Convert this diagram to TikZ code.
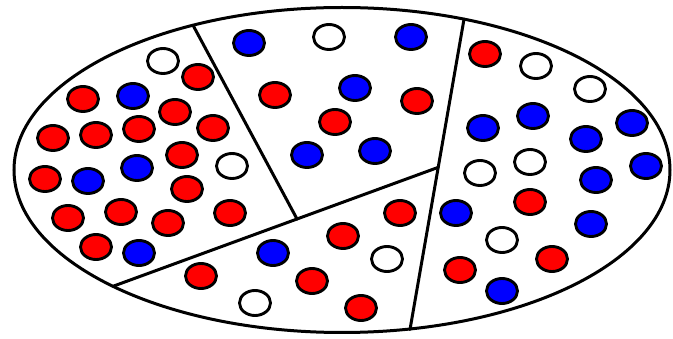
\documentclass[tikz,border=0pt]{standalone}
\usetikzlibrary{shapes.geometric}
\definecolor{dred}{RGB}{255,0,0}
\definecolor{dblue}{RGB}{0,0,255}
\tikzset{
  dot/.style={ellipse, draw=black, line width=2.9pt, minimum width=31pt, minimum height=25pt, inner sep=0pt},
  rdot/.style={dot, fill=dred},
  bdot/.style={dot, fill=dblue},
  wdot/.style={dot, fill=white},
  border/.style={draw=black, line width=3pt},
  divider/.style={draw=black, line width=3pt, line cap=round}
}
\begin{document}
\begin{tikzpicture}[x=1pt,y=-1pt]
\useasboundingbox[fill=white] (0,0) rectangle (673,339);
% outer ellipse
\draw[border] (342,170) ellipse [x radius=328, y radius=162.5];
% dividers
\coordinate (t1) at (193,25.2);
\coordinate (t3) at (464,19.2);
\coordinate (b3) at (410,329.5);
\coordinate (l2) at (113,286.3);
\coordinate (m1) at (297,219);
\coordinate (j2) at (intersection of t3--b3 and l2--m1);
\coordinate (j1) at (intersection of t1--m1 and l2--j2);
\draw[divider] (t3) -- (b3);
\draw[divider] (l2) -- (j2);
\draw[divider] (t1) -- (j1);
% left sector
\node[wdot] (a1) at (163,61) {};
\node[rdot] (a2) at (198,77) {};
\node[rdot] (a3) at (83,99) {};
\node[bdot] (a4) at (133,96) {};
\node[rdot] (a5) at (175,112) {};
\node[rdot] (a6) at (53,138) {};
\node[rdot] (a7) at (96,135) {};
\node[rdot] (a8) at (139,129) {};
\node[rdot] (a9) at (213,128) {};
\node[rdot] (a10) at (182,155) {};
\node[wdot] (a11) at (232,166) {};
\node[rdot] (a12) at (45,179) {};
\node[bdot] (a13) at (88,181) {};
\node[bdot] (a14) at (137,168) {};
\node[rdot] (a15) at (187,189) {};
\node[rdot] (a16) at (68,218) {};
\node[rdot] (a17) at (121,212) {};
\node[rdot] (a18) at (168,223) {};
\node[rdot] (a19) at (230,213) {};
\node[rdot] (a20) at (96,247) {};
\node[bdot] (a21) at (139,253) {};
% middle top sector
\node[bdot] (b1) at (249,43) {};
\node[wdot] (b2) at (329,37) {};
\node[bdot] (b3) at (411,37) {};
\node[rdot] (b4) at (275,95) {};
\node[bdot] (b5) at (355,88) {};
\node[rdot] (b6) at (417,101) {};
\node[rdot] (b7) at (335,122) {};
\node[bdot] (b8) at (307,155) {};
\node[bdot] (b9) at (375,151) {};
% bottom sector
\node[rdot] (c1) at (400,213) {};
\node[bdot] (c2) at (273,253) {};
\node[rdot] (c3) at (343,236) {};
\node[wdot] (c4) at (387,259) {};
\node[rdot] (c5) at (201,276) {};
\node[rdot] (c6) at (312,281) {};
\node[wdot] (c7) at (255,303) {};
\node[rdot] (c8) at (361,308) {};
% right sector
\node[rdot] (d1) at (485,54) {};
\node[wdot] (d2) at (536,66) {};
\node[wdot] (d3) at (590,89) {};
\node[bdot] (d4) at (483,128) {};
\node[bdot] (d5) at (533,116) {};
\node[bdot] (d6) at (586,139) {};
\node[bdot] (d7) at (632,123) {};
\node[wdot] (d8) at (480,173) {};
\node[wdot] (d9) at (530,162) {};
\node[bdot] (d10) at (596,180) {};
\node[bdot] (d11) at (646,166) {};
\node[bdot] (d12) at (456,213) {};
\node[rdot] (d13) at (530,202) {};
\node[wdot] (d14) at (502,240) {};
\node[bdot] (d15) at (591,224) {};
\node[rdot] (d16) at (552,259) {};
\node[rdot] (d17) at (460,270) {};
\node[bdot] (d18) at (502,291) {};
\end{tikzpicture}
\end{document}
